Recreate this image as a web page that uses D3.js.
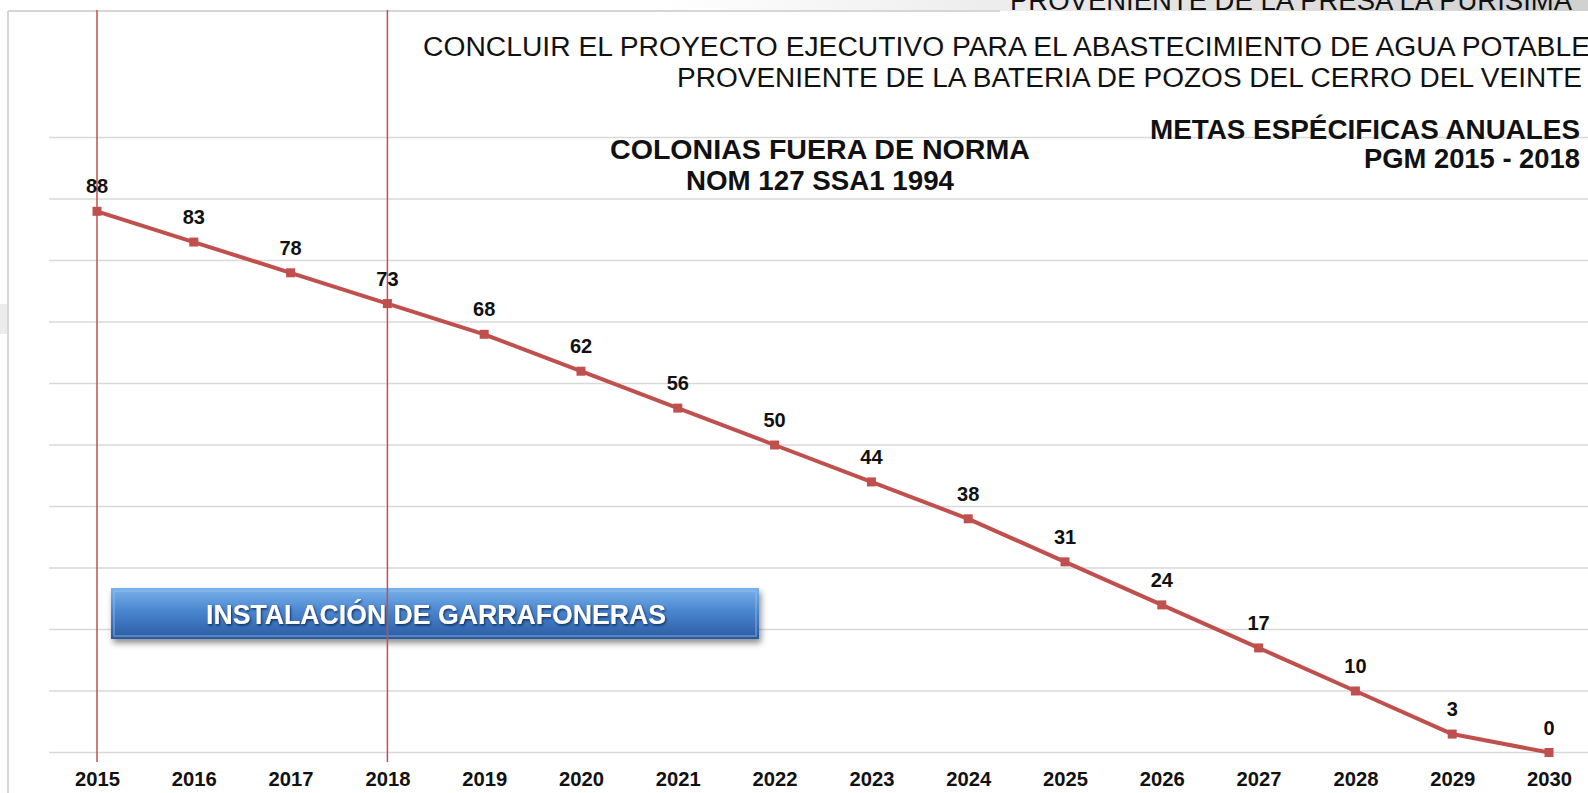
<!DOCTYPE html>
<html>
<head>
<meta charset="utf-8">
<script src="https://cdn.jsdelivr.net/npm/d3@7"></script>
<style>
  body { margin: 0; background: #fff; }
  svg { display: block; font-family: "Liberation Sans", Arial, sans-serif; }
</style>
</head>
<body>
<svg id="chart" width="1588" height="793"></svg>
<script>
var width = 1588, height = 793;

// datos
var years = [2015, 2016, 2017, 2018, 2019, 2020, 2021, 2022, 2023, 2024, 2025, 2026, 2027, 2028, 2029, 2030];
var colonias = [88, 83, 78, 73, 68, 62, 56, 50, 44, 38, 31, 24, 17, 10, 3, 0];
var gridTicks = [0, 10, 20, 30, 40, 50, 60, 70, 80, 90, 100];
var markYears = [2015, 2018];

var svg = d3.select("#chart");

var x = d3.scaleLinear().domain([2015, 2030]).range([97, 1549]);
var y = d3.scaleLinear().domain([0, 100]).range([752.5, 137.5]);

var defs = svg.append("defs");
var gTop = defs.append("linearGradient").attr("id", "topband").attr("x1", 0).attr("x2", 1);
gTop.append("stop").attr("offset", "0").attr("stop-color", "#fff");
gTop.append("stop").attr("offset", "0.5").attr("stop-color", "#e6e6e6");
gTop.append("stop").attr("offset", "1").attr("stop-color", "#d0d0d0");

var gBtn = defs.append("linearGradient").attr("id", "btn").attr("x1", 0).attr("x2", 0).attr("y1", 0).attr("y2", 1);
gBtn.append("stop").attr("offset", "0").attr("stop-color", "#7ab2ea");
gBtn.append("stop").attr("offset", "0.45").attr("stop-color", "#4a86d0");
gBtn.append("stop").attr("offset", "1").attr("stop-color", "#2a5aa0");

var shadow = defs.append("filter").attr("id", "shadow").attr("x", "-10%").attr("y", "-30%").attr("width", "120%").attr("height", "170%");
shadow.append("feDropShadow").attr("dx", 2).attr("dy", 4).attr("stdDeviation", 3).attr("flood-color", "#000").attr("flood-opacity", 0.45);

var tshadow = defs.append("filter").attr("id", "tshadow");
tshadow.append("feDropShadow").attr("dx", 1).attr("dy", 1.5).attr("stdDeviation", 1).attr("flood-color", "#0b2450").attr("flood-opacity", 0.9);

// fondo / bordes de la diapositiva
svg.append("rect").attr("x", 660).attr("y", 0).attr("width", 928).attr("height", 11).attr("fill", "url(#topband)");
svg.append("line").attr("x1", 8).attr("x2", 1000).attr("y1", 11).attr("y2", 11)
    .attr("stroke", "#d6d6d6").attr("stroke-width", 2);
svg.append("line").attr("x1", 8).attr("x2", 8).attr("y1", 11).attr("y2", height)
    .attr("stroke", "#d6d6d6").attr("stroke-width", 2);
svg.append("rect").attr("x", 0).attr("y", 304).attr("width", 7).attr("height", 30).attr("fill", "#ececec");

// textos superiores
function label(txt, px, py, size, weight, len, anchor) {
    var t = svg.append("text").attr("x", px).attr("y", py).attr("text-anchor", anchor || "end")
        .attr("font-size", size).attr("font-weight", weight).attr("fill", "#111").text(txt);
    if (len) t.attr("textLength", len).attr("lengthAdjust", "spacingAndGlyphs");
    return t;
}

label("PROVENIENTE DE LA PRESA LA PURISIMA", 1572, 10, 27, "normal", 562);
label("CONCLUIR EL PROYECTO EJECUTIVO PARA EL ABASTECIMIENTO DE AGUA POTABLE", 1590, 56, 27, "normal", 1167);
label("PROVENIENTE DE LA BATERIA DE POZOS DEL CERRO DEL VEINTE", 1582, 87, 27, "normal", 905);

// rejilla
svg.append("g").selectAll("line").data(gridTicks).enter().append("line")
    .attr("x1", 49).attr("x2", width)
    .attr("y1", d => y(d)).attr("y2", d => y(d))
    .attr("stroke", "#d9d9d9").attr("stroke-width", 1.5);

label("METAS ESPÉCIFICAS ANUALES", 1580, 139, 27, "bold", 430);
label("PGM 2015 - 2018", 1580, 168, 27, "bold", 216);

label("COLONIAS FUERA DE NORMA", 820, 159, 27, "bold", 420, "middle");
label("NOM 127 SSA1 1994", 820, 190, 27, "bold", 268, "middle");

// boton
var btn = svg.append("g");
btn.append("rect").attr("x", 111).attr("y", 588).attr("width", 648).attr("height", 51)
    .attr("fill", "url(#btn)").attr("filter", "url(#shadow)");
btn.append("rect").attr("x", 114).attr("y", 591).attr("width", 642).attr("height", 45)
    .attr("fill", "none").attr("stroke", "#9cc6f0").attr("stroke-opacity", 0.5).attr("stroke-width", 1.5);
btn.append("text").attr("x", 436).attr("y", 624).attr("text-anchor", "middle")
    .attr("font-size", 28).attr("font-weight", "bold").attr("fill", "#fff")
    .attr("textLength", 460).attr("lengthAdjust", "spacingAndGlyphs")
    .attr("filter", "url(#tshadow)")
    .text("INSTALACIÓN DE GARRAFONERAS");

// lineas verticales
svg.append("g").selectAll("line").data(markYears).enter().append("line")
    .attr("x1", d => x(d)).attr("x2", d => x(d))
    .attr("y1", 10).attr("y2", 762)
    .attr("stroke", "#c0504d").attr("stroke-width", 1.5);

// serie
var line = d3.line().x((d, i) => x(years[i])).y(d => y(d));
svg.append("path").datum(colonias)
    .attr("d", line).attr("fill", "none")
    .attr("stroke", "#c0504d").attr("stroke-width", 4).attr("stroke-linejoin", "round");

svg.append("g").selectAll("rect").data(colonias).enter().append("rect")
    .attr("x", (d, i) => x(years[i]) - 4.5).attr("y", d => y(d) - 4.5)
    .attr("width", 9).attr("height", 9).attr("fill", "#c0504d");

svg.append("g").selectAll("text").data(colonias).enter().append("text")
    .attr("x", (d, i) => x(years[i])).attr("y", d => y(d) - 18)
    .attr("text-anchor", "middle").attr("font-size", 20).attr("font-weight", "bold").attr("fill", "#111")
    .text(d => d);

// eje x
var xAxis = d3.axisBottom(x).tickValues(years).tickFormat(d3.format("d")).tickSize(0).tickPadding(0);
var gx = svg.append("g").attr("transform", "translate(0,771)").call(xAxis);
gx.select(".domain").remove();
gx.selectAll("text").attr("font-size", 21).attr("font-weight", "bold").attr("fill", "#111")
    .attr("font-family", "'Liberation Sans', Arial, sans-serif").attr("dy", "0.71em")
    .attr("textLength", 45).attr("lengthAdjust", "spacingAndGlyphs");
</script>
</body>
</html>
